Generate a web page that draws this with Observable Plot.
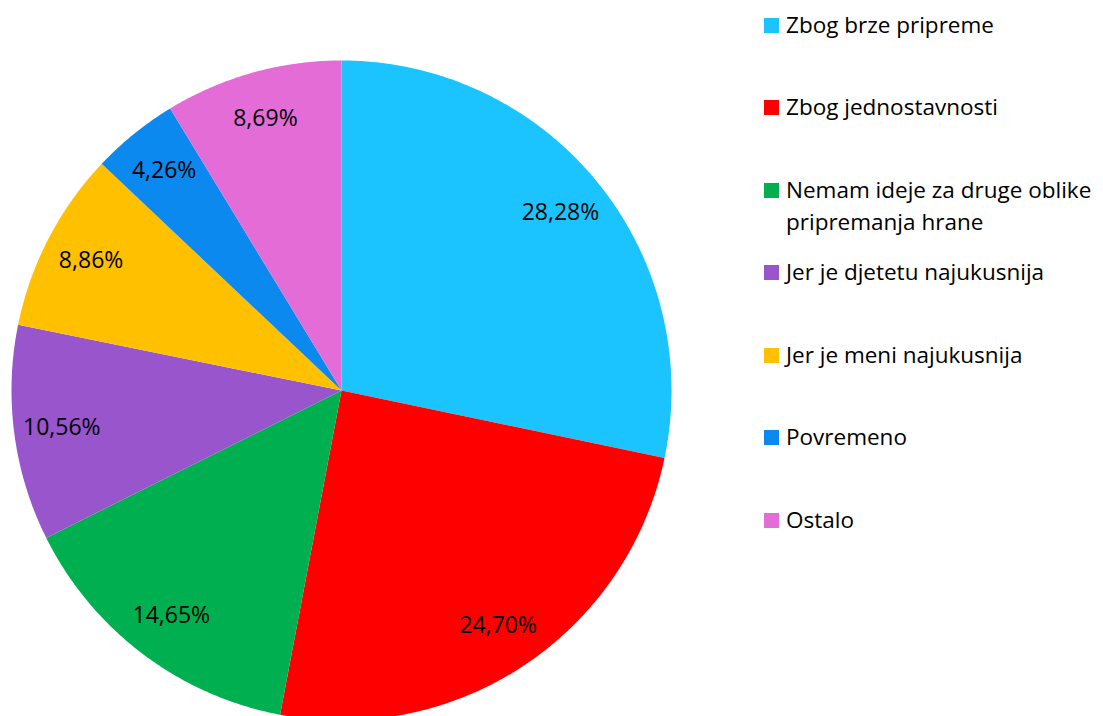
<!DOCTYPE html>
<html>
<head>
<meta charset="utf-8">
<script src="https://cdn.jsdelivr.net/npm/d3@7"></script>
<script src="https://cdn.jsdelivr.net/npm/@observablehq/plot@0.6"></script>
<style>
  html, body { margin: 0; padding: 0; background: #fff; }
  #wrap { position: relative; width: 1103px; height: 716px; overflow: hidden; font-family: "Open Sans", "Noto Sans", sans-serif; }
  #legend { position: absolute; left: 764px; top: 0; }
  .item { position: absolute; left: 0; width: 340px; font-size: 22.5px; line-height: 32px; color: #000; white-space: nowrap; }
  .sw { position: absolute; left: 0; width: 15px; height: 15px; }
  .lab { position: absolute; left: 22px; }
</style>
</head>
<body>
<div id="wrap"><div id="chart"></div><div id="legend"></div></div>
<script>
const categories = ["Zbog brze pripreme", "Zbog jednostavnosti", "Nemam ideje za druge oblike pripremanja hrane", "Jer je djetetu najukusnija", "Jer je meni najukusnija", "Povremeno", "Ostalo"];
const legendLines = [["Zbog brze pripreme"], ["Zbog jednostavnosti"], ["Nemam ideje za druge oblike", "pripremanja hrane"], ["Jer je djetetu najukusnija"], ["Jer je meni najukusnija"], ["Povremeno"], ["Ostalo"]];
const values = [28.28, 24.70, 14.65, 10.56, 8.86, 4.26, 8.69];
const labels = ["28,28%", "24,70%", "14,65%", "10,56%", "8,86%", "4,26%", "8,69%"];
const colors = ["#1CC4FF", "#FF0000", "#00B050", "#9955CC", "#FFC000", "#0C89EE", "#E36CD6"];

const total = d3.sum(values);
const pts = [];
const labs = [];
let acc = 0;
categories.forEach((c, i) => {
  const a0 = acc / total * 2 * Math.PI;
  acc += values[i];
  const a1 = acc / total * 2 * Math.PI;
  pts.push({cat: c, x: 0, y: 0});
  const n = Math.max(2, Math.ceil((a1 - a0) / (Math.PI / 360)));
  for (let k = 0; k <= n; k++) {
    const a = a0 + (a1 - a0) * k / n;
    pts.push({cat: c, x: Math.sin(a), y: Math.cos(a)});
  }
  const am = (a0 + a1) / 2;
  labs.push({cat: c, label: labels[i], x: 0.855 * Math.sin(am), y: 0.855 * Math.cos(am)});
});

const chart = Plot.plot({
  width: 1103,
  height: 716,
  margin: 0,
  x: {domain: [-1, 1], range: [11, 671], axis: null},
  y: {domain: [-1, 1], range: [720, 60], axis: null},
  color: {domain: categories, range: colors},
  style: {fontFamily: "'Open Sans', 'Noto Sans', sans-serif", background: "transparent"},
  marks: [
    Plot.line(pts, {x: "x", y: "y", z: "cat", fill: "cat", stroke: null, curve: "linear"}),
    Plot.text(labs, {x: "x", y: "y", text: "label", fontSize: 23, fill: "#000"})
  ]
});
document.getElementById("chart").appendChild(chart);

const rowCenters = [25, 107, 190, 272, 355, 437, 520];
const legend = document.getElementById("legend");
legendLines.forEach((lines, i) => {
  const item = document.createElement("div");
  item.className = "item";
  item.style.top = (rowCenters[i] - 16) + "px";
  const sw = document.createElement("div");
  sw.className = "sw";
  sw.style.background = colors[i];
  sw.style.top = "9px";
  item.appendChild(sw);
  const lab = document.createElement("div");
  lab.className = "lab";
  lab.innerHTML = lines.join("<br>");
  item.appendChild(lab);
  legend.appendChild(item);
});
</script>
</body>
</html>
